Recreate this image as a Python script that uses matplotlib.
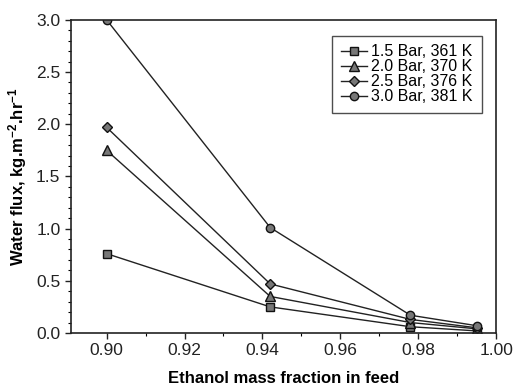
import matplotlib.pyplot as plt
from matplotlib.ticker import MultipleLocator

plt.rcParams['font.family'] = ['Liberation Sans', 'DejaVu Sans']
plt.rcParams['mathtext.fontset'] = 'custom'
plt.rcParams['mathtext.rm'] = 'Liberation Sans'
plt.rcParams['mathtext.bf'] = 'Liberation Sans:bold'
plt.rcParams['mathtext.default'] = 'bf'

ethanol = [0.900, 0.942, 0.978, 0.995]
flux_15 = [0.76, 0.25, 0.06, 0.02]
flux_20 = [1.75, 0.35, 0.10, 0.04]
flux_25 = [1.97, 0.47, 0.13, 0.05]
flux_30 = [3.00, 1.01, 0.17, 0.07]
labels = ['1.5 Bar, 361 K', '2.0 Bar, 370 K', '2.5 Bar, 376 K', '3.0 Bar, 381 K']
markers = ['s', '^', 'D', 'o']
sizes = [5.5, 6.5, 5, 6]

fig = plt.figure(figsize=(5.13, 3.89), dpi=100)
ax = fig.add_axes([0.138, 0.144, 0.829, 0.805])

for y, lab, m, s in zip([flux_15, flux_20, flux_25, flux_30], labels, markers, sizes):
    ax.plot(ethanol, y, color='#222222', lw=1.0, marker=m, ms=s,
            markerfacecolor='#777777', markeredgecolor='#111111', markeredgewidth=1.0,
            label=lab)

ax.set_xlim(0.8908, 1.0)
ax.set_ylim(0, 3.0)
ax.xaxis.set_major_locator(MultipleLocator(0.02))
ax.xaxis.set_minor_locator(MultipleLocator(0.01))
ax.yaxis.set_major_locator(MultipleLocator(0.5))
ax.yaxis.set_minor_locator(MultipleLocator(0.1))
ax.xaxis.set_major_formatter(plt.FormatStrFormatter('%.2f'))
ax.yaxis.set_major_formatter(plt.FormatStrFormatter('%.1f'))
ax.tick_params(which='major', length=4, width=1.0, labelsize=12.5, colors='#222222')
ax.tick_params(which='minor', length=2.5, width=0.8)
for sp in ax.spines.values():
    sp.set_linewidth(1.2)
    sp.set_color('#222222')

ax.set_xlabel('Ethanol mass fraction in feed', fontsize=12, fontweight='bold', labelpad=9)
ax.set_ylabel('Water flux, kg.m$^{-2}$.hr$^{-1}$', fontsize=12, fontweight='bold', labelpad=5)

leg = ax.legend(loc='upper right', bbox_to_anchor=(0.985, 0.975), fontsize=11.5, frameon=True,
                fancybox=False, edgecolor='#222222', handlelength=1.6, handletextpad=0.3,
                borderpad=0.55, labelspacing=0.0)
leg.get_frame().set_linewidth(1.0)

fig.savefig('out.png', dpi=100)
